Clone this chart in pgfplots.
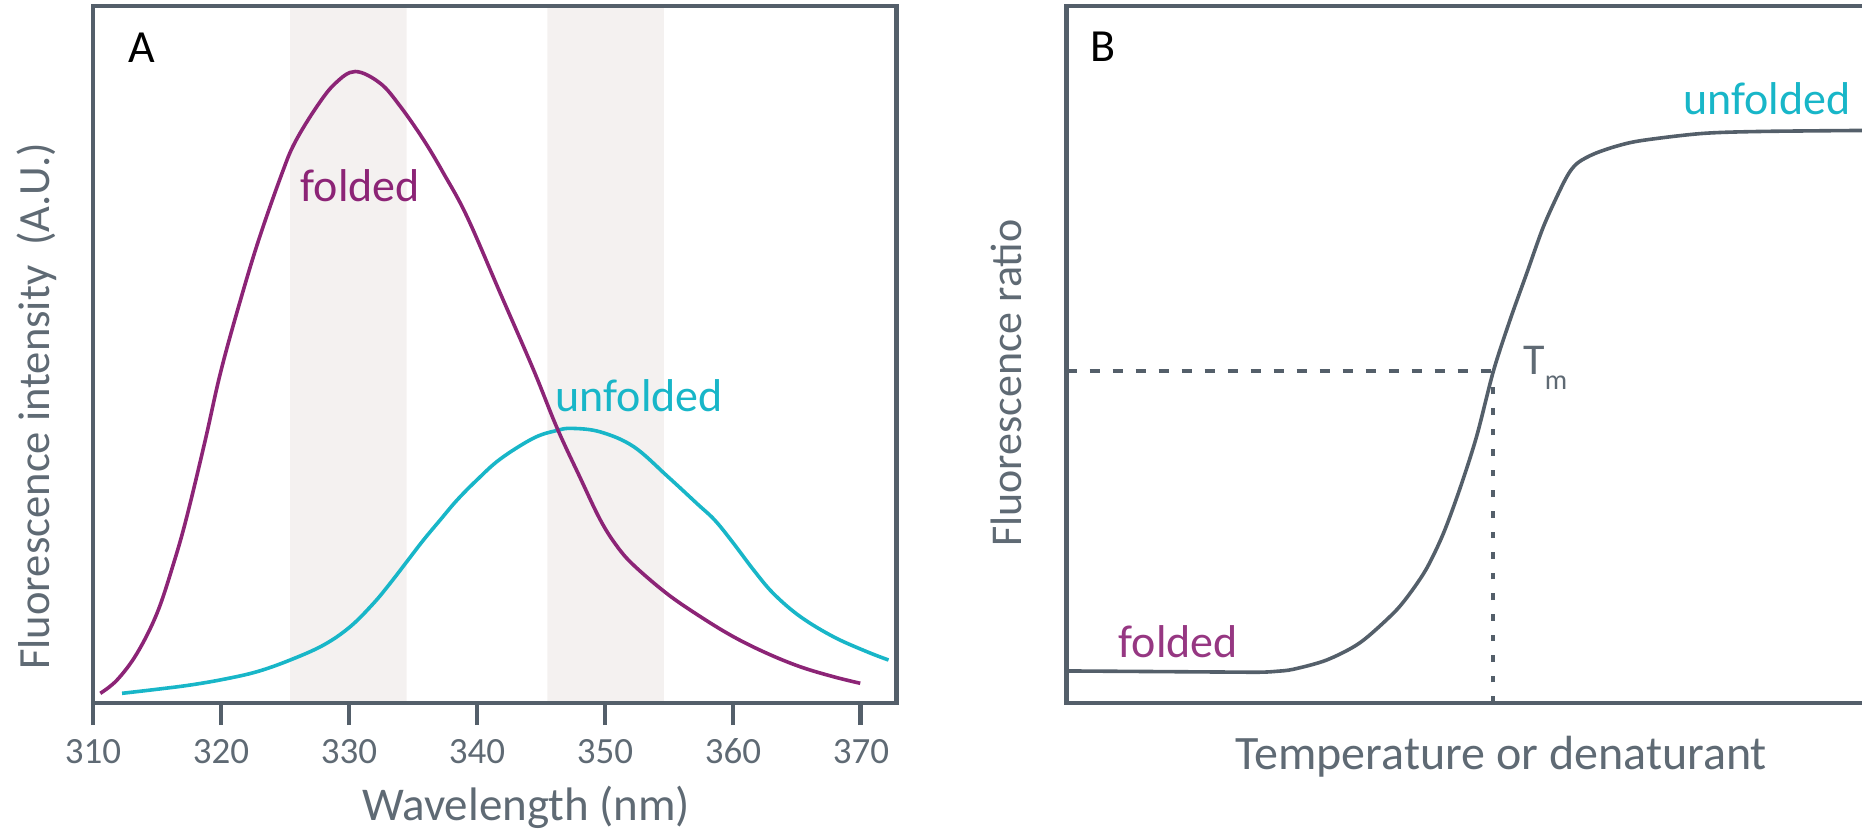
\documentclass[border=0pt]{standalone}
\usepackage{fontspec}
\setmainfont{Carlito}
\usepackage{pgfplots}
\pgfplotsset{compat=1.18}

\definecolor{axgray}{RGB}{84,95,106}
\definecolor{txtgray}{RGB}{95,106,116}
\definecolor{foldpurple}{RGB}{140,36,118}
\definecolor{foldpurplelt}{RGB}{150,55,130}
\definecolor{unfoldcyan}{RGB}{24,182,200}
\definecolor{bandgray}{RGB}{244,241,240}

\newcommand{\fs}[1]{\fontsize{#1}{#1}\selectfont}

\pgfplotsset{
  panel/.style={
    scale only axis,
    anchor=south west,
    height=348.5pt,
    ymin=0, ymax=1,
    ytick=\empty,
    axis on top,
    axis line style={axgray, line width=2.4pt},
  },
}

\begin{document}
\begin{tikzpicture}
\path[use as bounding box] (0,0) rectangle (931pt,416pt);

% Panel A: emission spectra of the folded and unfolded protein
\begin{axis}[panel,
  at={(46.5pt,64.5pt)}, width=401.85pt,
  xmin=310, xmax=372.8,
  xtick={310,320,330,340,350,360,370},
  xticklabels={310,320,330,340,350,360,370},
  xtick pos=left, tick align=outside, major tick length=11pt,
  major tick style={axgray, line width=2.4pt},
  xticklabel style={anchor=base, yshift=-19pt, font=\fs{18.5}, text=txtgray},
  xlabel={Wavelength (nm)},
  xlabel style={at={(axis description cs:0.539,-0.168)}, anchor=base, font=\fs{23.5}, text=txtgray},
  ylabel={Fluorescence intensity\ \ (A.U.)},
  ylabel style={at={(axis description cs:-0.0538,0.426)}, anchor=base, font=\fs{22.3}, text=txtgray},
]
% detection windows
\addplot[draw=none, fill=bandgray] coordinates {(325.4,0) (325.4,1) (334.5,1) (334.5,0)} \closedcycle;
\addplot[draw=none, fill=bandgray] coordinates {(345.5,0) (345.5,1) (354.6,1) (354.6,0)} \closedcycle;

% unfolded spectrum
\addplot[unfoldcyan, line width=1.8pt, smooth, tension=0.6] table {
312.27 0.0139
315.00 0.0197
317.60 0.0258
320.20 0.0340
322.81 0.0449
325.41 0.0617
328.02 0.0832
330.10 0.1095
331.92 0.1430
333.23 0.1720
334.53 0.2030
335.83 0.2340
337.13 0.2626
338.44 0.2910
340.00 0.3200
341.82 0.3500
344.42 0.3800
346.25 0.3910
347.42 0.3940
349.63 0.3890
352.23 0.3680
354.90 0.3250
357.20 0.2860
358.60 0.2620
360.05 0.2290
361.61 0.1910
363.17 0.1570
365.26 0.1240
367.86 0.0950
370.47 0.0736
372.16 0.0617
};

% folded spectrum
\addplot[foldpurple, line width=1.8pt, smooth, tension=0.6] table {
310.57 0.0139
311.88 0.0330
313.44 0.0713
315.00 0.1287
316.30 0.2004
317.34 0.2680
318.77 0.3770
319.95 0.4730
321.38 0.5690
322.94 0.6640
324.77 0.7600
325.80 0.8050
327.50 0.8560
328.93 0.8890
330.49 0.9060
332.45 0.8890
334.01 0.8560
335.83 0.8080
337.39 0.7600
339.22 0.6980
341.82 0.5880
344.42 0.4780
346.25 0.3950
348.07 0.3230
349.63 0.2630
350.90 0.2260
352.23 0.1980
354.84 0.1570
357.45 0.1240
360.05 0.0950
362.66 0.0713
365.26 0.0520
367.86 0.0377
369.95 0.0283
};

\node[anchor=base west, inner sep=0pt, font=\fs{23}] at (axis cs:312.76,0.919) {A};
\node[anchor=base west, inner sep=0pt, font=\fs{23}, text=foldpurple] at (axis cs:326.2,0.719) {folded};
\node[anchor=base west, inner sep=0pt, font=\fs{23}, text=unfoldcyan] at (axis cs:346.12,0.418) {unfolded};
\end{axis}

% Panel B: unfolding transition
\begin{axis}[panel,
  at={(533.35pt,64.5pt)}, width=400pt,
  xmin=0, xmax=800,
  xtick=\empty,
  xlabel={Temperature or denaturant},
  xlabel style={at={(axis description cs:0.543,-0.0961)}, anchor=base, font=\fs{24}, text=txtgray},
  ylabel={Fluorescence ratio},
  ylabel style={at={(axis description cs:-0.056,0.459)}, anchor=base, font=\fs{22}, text=txtgray},
]
% midpoint guides
\addplot[axgray, line width=1.8pt, dash pattern=on 5pt off 6.5pt] coordinates {(0,0.4763) (426.7,0.4763)};
\addplot[axgray, line width=2pt, dash pattern=on 3.3pt off 7pt] coordinates {(426.7,0) (426.7,0.4763)};

% transition curve
\addplot[axgray, line width=1.8pt, smooth, tension=0.5] table {
0     0.0460
50    0.0455
100   0.0450
150   0.0445
193   0.0442
210   0.0455
226.6 0.0484
260   0.0617
293.3 0.0865
326.6 0.1287
343.3 0.1574
360   0.1933
376.6 0.2430
393.3 0.3080
410   0.3830
426.7 0.4763
443.3 0.5495
460   0.6165
476.6 0.6830
493.3 0.7360
503   0.7620
512   0.7760
527.6 0.7880
550   0.7990
575   0.8070
634.4 0.8170
693.7 0.8200
800   0.8215
};

\node[anchor=base west, inner sep=0pt, font=\fs{23}] at (axis cs:23.3,0.921) {B};
\node[anchor=base west, inner sep=0pt, font=\fs{23}, text=unfoldcyan] at (axis cs:616.3,0.845) {unfolded};
\node[anchor=base west, inner sep=0pt, font=\fs{23}, text=foldpurplelt] at (axis cs:51.6,0.0656) {folded};
\node[anchor=base west, inner sep=0pt, text=txtgray] at (axis cs:456.3,0.4706)
  {\fs{22}T\raisebox{-7.5pt}{\fs{14}m}};
\end{axis}
\end{tikzpicture}
\end{document}
